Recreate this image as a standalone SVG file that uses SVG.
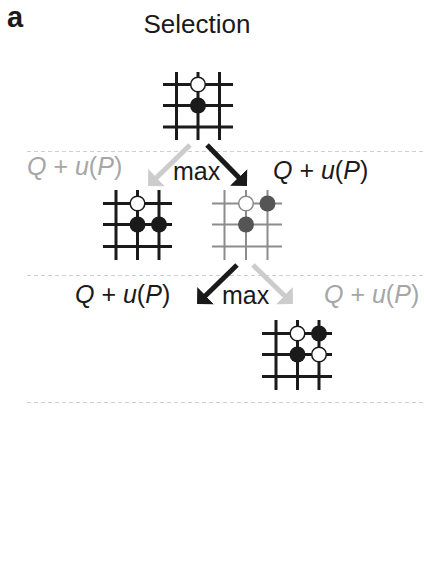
<svg xmlns="http://www.w3.org/2000/svg" width="424" height="576" viewBox="0 0 424 576">
<style>
text{font-family:"Liberation Sans",Arial,sans-serif;}
.lbl{font-size:25px;}
.blk{fill:#1a1a1a;}
.gry{fill:#a6a6a6;}
.g{stroke:#1a1a1a;stroke-width:3;fill:none;}
.gl{stroke:#8c8c8c;stroke-width:2;fill:none;}
.ws{fill:#fff;stroke:#1a1a1a;stroke-width:1.5;}
.bs{fill:#1a1a1a;}
.wsg{fill:#fff;stroke:#8c8c8c;stroke-width:1.5;}
.dsg{fill:#555;}
.dash{stroke:#cfcfcf;stroke-width:1;stroke-dasharray:4 3;}
.ab{stroke:#1a1a1a;stroke-width:5;fill:none;}
.ag{stroke:#cccccc;stroke-width:5;fill:none;}
</style>
<defs>
<marker id="hb" viewBox="0 0 12 24" refX="1" refY="12" markerWidth="12" markerHeight="24" orient="auto" markerUnits="userSpaceOnUse"><path d="M0,0 L12,12 L0,24 z" fill="#1a1a1a"/></marker>
<marker id="hg" viewBox="0 0 12 24" refX="1" refY="12" markerWidth="12" markerHeight="24" orient="auto" markerUnits="userSpaceOnUse"><path d="M0,0 L12,12 L0,24 z" fill="#cccccc"/></marker>
</defs>
<rect width="424" height="576" fill="#fff"/>
<g id="dividers">
<line class="dash" x1="27" y1="151.5" x2="424" y2="151.5"/>
<line class="dash" x1="27" y1="275.5" x2="424" y2="275.5"/>
<line class="dash" x1="27" y1="402.5" x2="424" y2="402.5"/>
</g>
<text x="7" y="27" font-size="29" font-weight="bold" class="blk">a</text>
<text x="197" y="33" font-size="26" text-anchor="middle" class="blk">Selection</text>
<g id="root">
<path class="g" d="M163,84.5H233M163,105.5H233M163,127H233M176.5,72V140M198,72V140M219.5,72V140"/>
<circle class="ws" cx="198" cy="84.5" r="7.3"/>
<circle class="bs" cx="198" cy="105.5" r="8"/>
</g>
<g id="left1">
<path class="g" d="M103,203.5H172M103,224.5H172M103,246.5H172M116,190V260M137.5,190V260M159,190V260"/>
<circle class="ws" cx="137.5" cy="203.5" r="7.3"/>
<circle class="bs" cx="137.5" cy="224.5" r="8"/>
<circle class="bs" cx="159" cy="224.5" r="8"/>
</g>
<g id="right1">
<path class="gl" d="M212,203.5H282M212,224.5H282M212,246.5H282M224.5,190V260M246,190V260M267.5,190V260"/>
<circle class="wsg" cx="246" cy="203.5" r="7.3"/>
<circle class="dsg" cx="267.5" cy="203.5" r="8"/>
<circle class="dsg" cx="246" cy="224.5" r="8"/>
</g>
<g id="leaf">
<path class="g" d="M262,333.5H332M262,354.5H332M262,376.5H332M276,320V390M297.5,320V390M319,320V390"/>
<circle class="ws" cx="297.5" cy="333.5" r="7.3"/>
<circle class="bs" cx="319" cy="333.5" r="8"/>
<circle class="bs" cx="297.5" cy="354.5" r="8"/>
<circle class="ws" cx="319" cy="354.5" r="7.3"/>
</g>
<g id="connectors">
<line class="ag" x1="190" y1="145" x2="155.9" y2="178.3" marker-end="url(#hg)"/>
<line class="ab" x1="207" y1="145" x2="239.3" y2="178.1" marker-end="url(#hb)"/>
<line class="ab" x1="237" y1="265" x2="204.9" y2="296.3" marker-end="url(#hb)"/>
<line class="ag" x1="253" y1="265" x2="285.1" y2="296.3" marker-end="url(#hg)"/>
</g>
<g id="labels">
<text class="lbl gry" x="27" y="175"><tspan font-style="italic">Q</tspan> + <tspan font-style="italic">u</tspan>(<tspan font-style="italic">P</tspan>)</text>
<text class="lbl blk" x="173" y="180">max</text>
<text class="lbl blk" x="273" y="179"><tspan font-style="italic">Q</tspan> + <tspan font-style="italic">u</tspan>(<tspan font-style="italic">P</tspan>)</text>
<text class="lbl blk" x="75" y="303"><tspan font-style="italic">Q</tspan> + <tspan font-style="italic">u</tspan>(<tspan font-style="italic">P</tspan>)</text>
<text class="lbl blk" x="222" y="304">max</text>
<text class="lbl gry" x="324" y="303"><tspan font-style="italic">Q</tspan> + <tspan font-style="italic">u</tspan>(<tspan font-style="italic">P</tspan>)</text>
</g>
</svg>
